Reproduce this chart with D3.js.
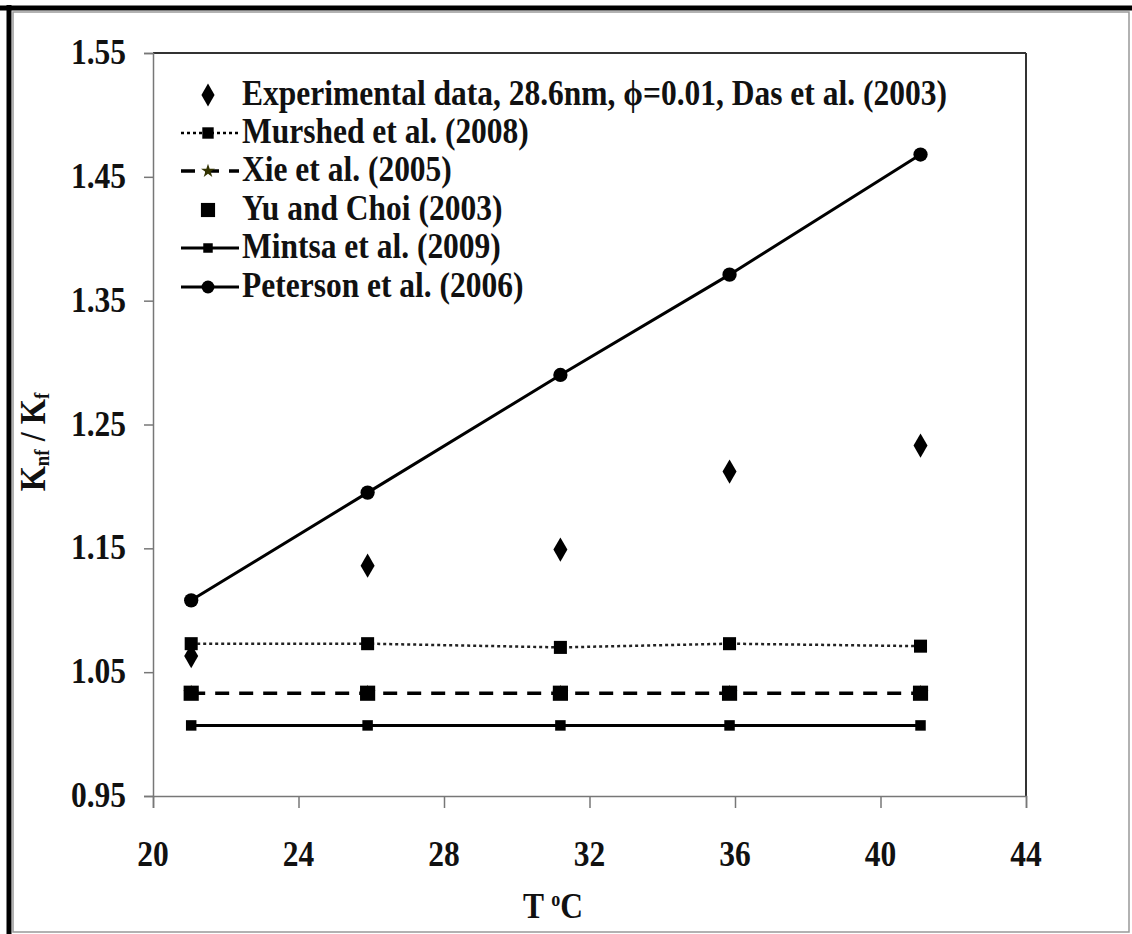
<!DOCTYPE html>
<html>
<head>
<meta charset="utf-8">
<script src="https://d3js.org/d3.v7.min.js"></script>
<style>
body, html {
    margin: 0;
    padding: 0;
    background: #fff;
}
svg text {
    font-family: "Liberation Serif", "Times New Roman", Times, "DejaVu Serif", serif;
    font-weight: bold;
    fill: #111;
}
</style>
</head>
<body>
<div id="chart"></div>
<script>
// data
var temps = [21.05, 25.9, 31.2, 35.85, 41.1];
var experimental = [1.063, 1.136, 1.149, 1.212, 1.233];
var murshed = [1.073, 1.073, 1.070, 1.073, 1.071];
var xie = [1.033, 1.033, 1.033, 1.033, 1.033];
var yuChoi = [1.033, 1.033, 1.033, 1.033, 1.033];
var mintsa = [1.007, 1.007, 1.007, 1.007, 1.007];
var peterson = [1.108, 1.195, 1.290, 1.371, 1.468];

var xTicks = [20, 24, 28, 32, 36, 40, 44];
var yTicks = [0.95, 1.05, 1.15, 1.25, 1.35, 1.45, 1.55];

var legendLabels = [
  "Experimental data, 28.6nm, \u03d5=0.01, Das et al. (2003)",
  "Murshed et al. (2008)",
  "Xie et al. (2005)",
  "Yu and Choi (2003)",
  "Mintsa et al. (2009)",
  "Peterson et al. (2006)"
];

var width = 1132, height = 934;
var sx = 0.9; // the text in the picture is narrow

var svg = d3.select("#chart").append("svg")
  .attr("width", width)
  .attr("height", height);

// outer frame
svg.append("rect").attr("x", 13).attr("y", 12).attr("width", 1116).attr("height", 920)
  .attr("fill", "none").attr("stroke", "#999").attr("stroke-width", 1.5);
svg.append("line").attr("x1", 0).attr("x2", width).attr("y1", 8).attr("y2", 8)
  .attr("stroke", "#000").attr("stroke-width", 5);
svg.append("line").attr("x1", 9).attr("x2", 9).attr("y1", 5).attr("y2", height)
  .attr("stroke", "#000").attr("stroke-width", 5);

var x = d3.scaleLinear().domain([20, 44]).range([153, 1026]);
var y = d3.scaleLinear().domain([0.95, 1.55]).range([796, 53]);

// plot box
svg.append("line").attr("x1", x(20)).attr("x2", x(44)).attr("y1", y(1.55)).attr("y2", y(1.55))
  .attr("stroke", "#333").attr("stroke-width", 2);
svg.append("line").attr("x1", x(44)).attr("x2", x(44)).attr("y1", y(1.55)).attr("y2", y(0.95))
  .attr("stroke", "#333").attr("stroke-width", 2);

// axes
svg.append("g").attr("transform", "translate(0," + y(0.95) + ")")
  .call(d3.axisBottom(x).tickValues(xTicks).tickSize(12).tickFormat(""));
svg.append("g").attr("transform", "translate(" + x(20) + ",0)")
  .call(d3.axisLeft(y).tickValues(yTicks).tickSize(9).tickFormat(""));
svg.selectAll(".domain").attr("stroke", "#777").attr("stroke-width", 1.5);
svg.selectAll(".tick line").attr("stroke", "#777").attr("stroke-width", 1.5);

function squeezed(px, py, rot) {
  return svg.append("g")
    .attr("transform", "translate(" + px + "," + py + ")" + (rot ? " rotate(" + rot + ")" : "") + " scale(" + sx + ",1)")
    .append("text");
}

xTicks.forEach(function(t) {
  squeezed(x(t), 866).attr("text-anchor", "middle").attr("font-size", 35).text(t);
});
yTicks.forEach(function(t) {
  squeezed(126, y(t) + 11).attr("text-anchor", "end").attr("font-size", 35).text(d3.format(".2f")(t));
});

// axis titles
var xt = squeezed(553, 918).attr("text-anchor", "middle").attr("font-size", 35);
xt.append("tspan").text("T ");
xt.append("tspan").attr("font-size", 20).attr("dy", -12).text("o");
xt.append("tspan").attr("dy", 12).text("C");

var yt = squeezed(45, 442, -90).attr("text-anchor", "middle").attr("font-size", 36);
yt.append("tspan").text("K");
yt.append("tspan").attr("font-size", 21).attr("dy", 4).text("nf");
yt.append("tspan").attr("dy", -4).text(" / K");
yt.append("tspan").attr("font-size", 21).attr("dy", 4).text("f");

// series lines
var line = d3.line().x(function(d) { return x(d[0]); }).y(function(d) { return y(d[1]); });
function pairs(vals) { return temps.map(function(t, i) { return [t, vals[i]]; }); }

svg.append("path").datum(pairs(murshed)).attr("d", line)
  .attr("fill", "none").attr("stroke", "#222").attr("stroke-width", 2.5).attr("stroke-dasharray", "3,3");
svg.append("path").datum(pairs(xie)).attr("d", line)
  .attr("fill", "none").attr("stroke", "#000").attr("stroke-width", 3.5).attr("stroke-dasharray", "14,10");
svg.append("path").datum(pairs(mintsa)).attr("d", line)
  .attr("fill", "none").attr("stroke", "#000").attr("stroke-width", 3);
svg.append("path").datum(pairs(peterson)).attr("d", line)
  .attr("fill", "none").attr("stroke", "#000").attr("stroke-width", 3);

// markers
function markers(vals, type, size, color) {
  svg.append("g").selectAll("path").data(pairs(vals)).enter().append("path")
    .attr("transform", function(d) { return "translate(" + x(d[0]) + "," + y(d[1]) + ")"; })
    .attr("d", d3.symbol().type(type).size(size))
    .attr("fill", color);
}
markers(experimental, d3.symbolDiamond, 170, "#000");
markers(murshed, d3.symbolSquare, 170, "#000");
markers(xie, d3.symbolStar, 80, "#333300");
markers(yuChoi, d3.symbolSquare, 230, "#000");
markers(mintsa, d3.symbolSquare, 110, "#000");
markers(peterson, d3.symbolCircle, 160, "#000");

// legend
var legY = [95, 133, 171, 210, 248, 287];
var lx0 = 181, lx1 = 239, lm = 208;
var leg = svg.append("g");
function legLine(i, dash, w) {
  leg.append("line").attr("x1", lx0).attr("x2", lx1).attr("y1", legY[i]).attr("y2", legY[i])
    .attr("stroke", "#000").attr("stroke-width", w).attr("stroke-dasharray", dash);
}
function legSym(i, type, size, color) {
  leg.append("path").attr("transform", "translate(" + lm + "," + legY[i] + ")")
    .attr("d", d3.symbol().type(type).size(size)).attr("fill", color);
}
legSym(0, d3.symbolDiamond, 150, "#000");
legLine(1, "3,3", 2.5); legSym(1, d3.symbolSquare, 130, "#000");
legLine(2, "14,10", 3.5); legSym(2, d3.symbolStar, 60, "#333300");
legSym(3, d3.symbolSquare, 200, "#000");
legLine(4, null, 3); legSym(4, d3.symbolSquare, 90, "#000");
legLine(5, null, 3); legSym(5, d3.symbolCircle, 130, "#000");

legendLabels.forEach(function(s, i) {
  squeezed(242, legY[i] + 10).attr("text-anchor", "start").attr("font-size", 35).text(s);
});
</script>
</body>
</html>
